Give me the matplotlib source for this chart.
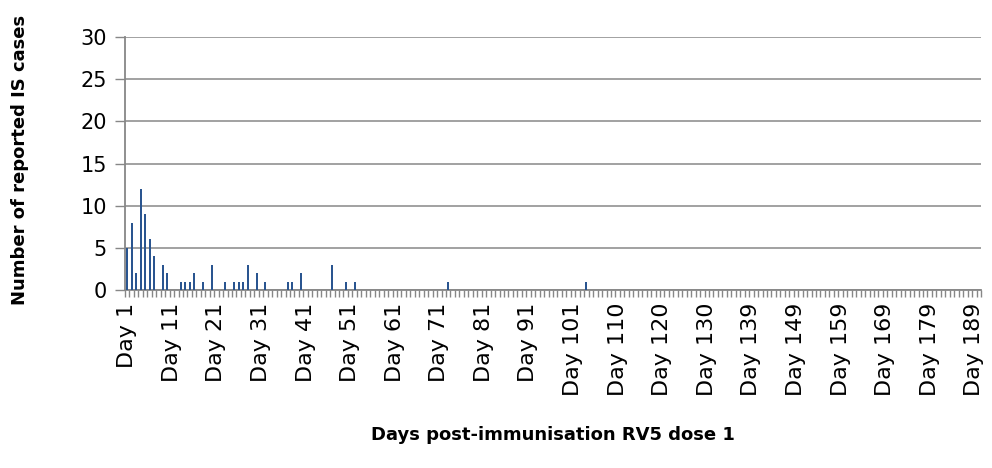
import numpy as np
import matplotlib
matplotlib.use("Agg")
import matplotlib.pyplot as plt

# categories on the x axis (one per day slot), only every 10th is labelled
n_categories = 192
label_positions = list(range(0, 191, 10))
tick_labels = ["Day 1", "Day 11", "Day 21", "Day 31", "Day 41", "Day 51", "Day 61",
               "Day 71", "Day 81", "Day 91", "Day 101", "Day 110", "Day 120",
               "Day 130", "Day 139", "Day 149", "Day 159", "Day 169", "Day 179",
               "Day 189"]

# reported IS cases (category index -> count), all other days are zero
case_index = [0, 1, 2, 3, 4, 5, 6, 8, 9, 12, 13, 14, 15, 17, 19, 22, 24, 25, 26,
              27, 29, 31, 36, 37, 39, 46, 49, 51, 72, 103]
case_count = [5, 8, 2, 12, 9, 6, 4, 3, 2, 1, 1, 1, 2, 1, 3, 1, 1, 1, 1,
              3, 2, 1, 1, 1, 2, 3, 1, 1, 1, 1]

counts = np.zeros(n_categories)
counts[case_index] = case_count
x = np.arange(n_categories)

grey = "#878787"

fig = plt.figure(figsize=(9.92, 4.68), dpi=100)
ax = fig.add_axes([125 / 992, 1 - 290 / 468, (981 - 125) / 992, (290 - 37) / 468])

ax.bar(x, counts, width=0.45, color="#2a5590", zorder=3)

ax.set_xlim(-0.5, n_categories - 0.5)
ax.set_ylim(0, 30)
ax.set_yticks(range(0, 31, 5))
ax.yaxis.grid(True, color=grey, linewidth=1.1, zorder=0)

# tick marks between categories, labels every 10th category
ax.set_xticks(label_positions)
ax.set_xticklabels(tick_labels, rotation=90)
ax.set_xticks(np.arange(n_categories + 1) - 0.5, minor=True)
ax.tick_params(axis="x", which="major", length=0, pad=9, labelsize=16)
ax.tick_params(axis="x", which="minor", length=5, width=1, color=grey, direction="out")
ax.tick_params(axis="y", length=7, width=1, color=grey, labelsize=15, pad=6)

for side in ["top", "right"]:
    ax.spines[side].set_visible(False)
for side in ["left", "bottom"]:
    ax.spines[side].set_color(grey)
    ax.spines[side].set_linewidth(1.3)

fig.text(20 / 992, 1 - 160 / 468, "Number of reported IS cases", rotation=90,
         ha="center", va="center", fontsize=13, fontweight="bold")
fig.text(553 / 992, 1 - 435 / 468, "Days post-immunisation RV5 dose 1",
         ha="center", va="center", fontsize=13, fontweight="bold")

fig.savefig("out.png", dpi=100)
